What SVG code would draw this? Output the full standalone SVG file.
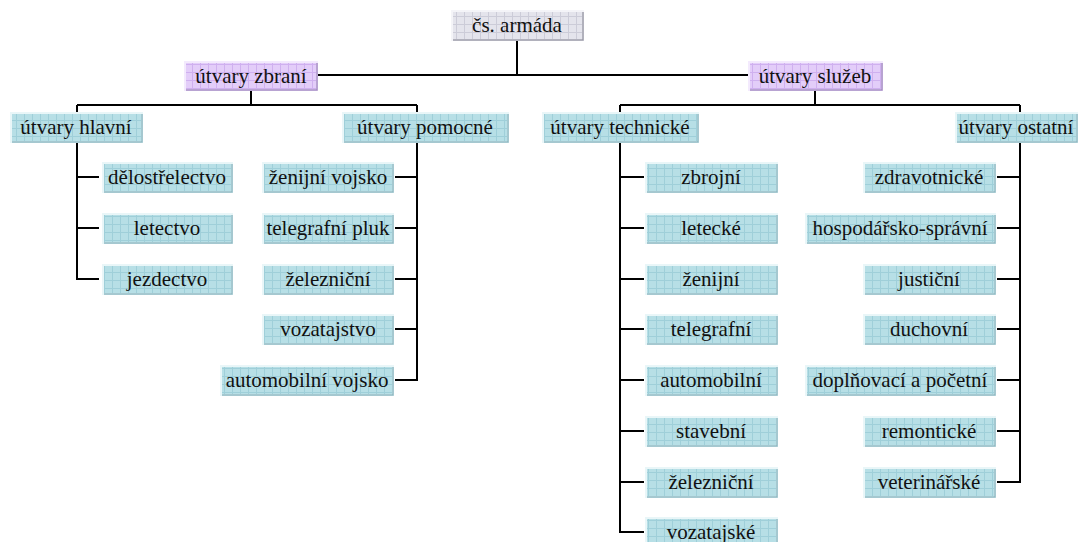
<svg xmlns="http://www.w3.org/2000/svg" width="1081" height="542" viewBox="0 0 1081 542" font-family="'Liberation Serif', 'DejaVu Serif', serif">
<defs>
<pattern id="gb" width="8" height="8" patternUnits="userSpaceOnUse">
<rect width="8" height="8" fill="#b7dfe6"/>
<path d="M0,0.5 H8 M0.5,0 V8" stroke="#9fcfd9" stroke-width="1"/>
</pattern>
<pattern id="gp" width="8" height="8" patternUnits="userSpaceOnUse">
<rect width="8" height="8" fill="#e3cdf9"/>
<path d="M0,0.5 H8 M0.5,0 V8" stroke="#cfb0ef" stroke-width="1"/>
</pattern>
<pattern id="gg" width="8" height="8" patternUnits="userSpaceOnUse">
<rect width="8" height="8" fill="#e4e4ec"/>
<path d="M0,0.5 H8 M0.5,0 V8" stroke="#ccccd8" stroke-width="1"/>
</pattern>
</defs>
<style>
.b rect{fill:url(#gb);stroke:#e9f6f8;stroke-width:2}
.p rect{fill:url(#gp);stroke:#f3eafd;stroke-width:2}
.g rect{fill:url(#gg);stroke:#f4f4f8;stroke-width:2}
.b path.s{stroke:#8fb9c2}
.p path.s{stroke:#a58cc3}
.g path.s{stroke:#9a9aa8}
path.s{fill:none;stroke-width:1.5}
text{font-family:'Liberation Serif','DejaVu Serif',serif;font-size:21px;fill:#111;text-anchor:middle}
#connectors path{fill:none;stroke:#000;stroke-width:2}
</style>
<g id="connectors">
<path d="M517,41 V75 M318,75 H748"/>
<path d="M251,91 V105 M77,105 H417 M77,105 V112 M417,105 V112"/>
<path d="M815,91 V105 M620,105 H1020 M620,105 V112 M1020,105 V112"/>
<path d="M77,142 V279 H99 M77,177 H99 M77,228 H99"/>
<path d="M417,142 V380 H395 M417,177 H395 M417,228 H395 M417,279 H395 M417,329 H395"/>
<path d="M620,142 V532 H644 M620,177 H644 M620,228 H644 M620,279 H644 M620,329 H644 M620,380 H644 M620,431 H644 M620,482 H644"/>
<path d="M1020,142 V482 H997 M1020,177 H997 M1020,228 H997 M1020,279 H997 M1020,329 H997 M1020,380 H997 M1020,431 H997"/>
</g>
<g id="n-root" class="g"><rect x="452" y="11" width="131" height="29"/><path class="s" d="M453,40 H583 V12"/><text x="517" y="32">čs. armáda</text></g>
<g id="n-zbrani" class="p"><rect x="185" y="62" width="132" height="28"/><path class="s" d="M186,90 H317 V63"/><text x="251" y="83">útvary zbraní</text></g>
<g id="n-sluzeb" class="p"><rect x="749" y="62" width="133" height="28"/><path class="s" d="M750,90 H882 V63"/><text x="815" y="83">útvary služeb</text></g>
<g id="n-hlavni" class="b"><rect x="11" y="113" width="131" height="29"/><path class="s" d="M12,142 H142 V114"/><text x="76" y="134">útvary hlavní</text></g>
<g id="n-pomocne" class="b"><rect x="343" y="113" width="165" height="29"/><path class="s" d="M344,142 H508 V114"/><text x="425" y="134">útvary pomocné</text></g>
<g id="n-technicke" class="b"><rect x="543" y="113" width="155" height="29"/><path class="s" d="M544,142 H698 V114"/><text x="620" y="134">útvary technické</text></g>
<g id="n-ostatni" class="b"><rect x="956" y="113" width="121" height="29"/><path class="s" d="M957,142 H1077 V114"/><text x="1016" y="134">útvary ostatní</text></g>
<g id="n-delo" class="b"><rect x="103" y="163" width="129" height="29"/><path class="s" d="M104,192 H232 V164"/><text x="167" y="184">dělostřelectvo</text></g>
<g id="n-letectvo" class="b"><rect x="103" y="214" width="129" height="29"/><path class="s" d="M104,243 H232 V215"/><text x="167" y="235">letectvo</text></g>
<g id="n-jezdectvo" class="b"><rect x="103" y="265" width="129" height="29"/><path class="s" d="M104,294 H232 V266"/><text x="167" y="286">jezdectvo</text></g>
<g id="n-zenvoj" class="b"><rect x="263" y="163" width="130" height="29"/><path class="s" d="M264,192 H393 V164"/><text x="328" y="184">ženijní vojsko</text></g>
<g id="n-telpluk" class="b"><rect x="263" y="214" width="130" height="29"/><path class="s" d="M264,243 H393 V215"/><text x="328" y="235">telegrafní pluk</text></g>
<g id="n-zelez1" class="b"><rect x="263" y="265" width="130" height="29"/><path class="s" d="M264,294 H393 V266"/><text x="328" y="286">železniční</text></g>
<g id="n-vozatajstvo" class="b"><rect x="263" y="315" width="130" height="29"/><path class="s" d="M264,344 H393 V316"/><text x="328" y="336">vozatajstvo</text></g>
<g id="n-autovoj" class="b"><rect x="221" y="366" width="172" height="29"/><path class="s" d="M222,395 H393 V367"/><text x="307" y="387">automobilní vojsko</text></g>
<g id="n-zbrojni" class="b"><rect x="646" y="163" width="131" height="29"/><path class="s" d="M647,192 H777 V164"/><text x="711" y="184">zbrojní</text></g>
<g id="n-letecke" class="b"><rect x="646" y="214" width="131" height="29"/><path class="s" d="M647,243 H777 V215"/><text x="711" y="235">letecké</text></g>
<g id="n-zenijni" class="b"><rect x="646" y="265" width="131" height="29"/><path class="s" d="M647,294 H777 V266"/><text x="711" y="286">ženijní</text></g>
<g id="n-telegrafni" class="b"><rect x="646" y="315" width="131" height="29"/><path class="s" d="M647,344 H777 V316"/><text x="711" y="336">telegrafní</text></g>
<g id="n-automobilni" class="b"><rect x="646" y="366" width="131" height="29"/><path class="s" d="M647,395 H777 V367"/><text x="711" y="387">automobilní</text></g>
<g id="n-stavebni" class="b"><rect x="646" y="417" width="131" height="29"/><path class="s" d="M647,446 H777 V418"/><text x="711" y="438">stavební</text></g>
<g id="n-zelez2" class="b"><rect x="646" y="468" width="131" height="29"/><path class="s" d="M647,497 H777 V469"/><text x="711" y="489">železniční</text></g>
<g id="n-vozatajske" class="b"><rect x="646" y="518" width="131" height="29"/><path class="s" d="M647,547 H777 V519"/><text x="711" y="539">vozatajské</text></g>
<g id="n-zdrav" class="b"><rect x="864" y="163" width="131" height="29"/><path class="s" d="M865,192 H995 V164"/><text x="929" y="184">zdravotnické</text></g>
<g id="n-hosp" class="b"><rect x="806" y="214" width="189" height="29"/><path class="s" d="M807,243 H995 V215"/><text x="900" y="235">hospodářsko-správní</text></g>
<g id="n-justicni" class="b"><rect x="864" y="265" width="131" height="29"/><path class="s" d="M865,294 H995 V266"/><text x="929" y="286">justiční</text></g>
<g id="n-duchovni" class="b"><rect x="864" y="315" width="131" height="29"/><path class="s" d="M865,344 H995 V316"/><text x="929" y="336">duchovní</text></g>
<g id="n-dopln" class="b"><rect x="806" y="366" width="189" height="29"/><path class="s" d="M807,395 H995 V367"/><text x="900" y="387">doplňovací a početní</text></g>
<g id="n-remont" class="b"><rect x="864" y="417" width="131" height="29"/><path class="s" d="M865,446 H995 V418"/><text x="929" y="438">remontické</text></g>
<g id="n-veter" class="b"><rect x="864" y="468" width="131" height="29"/><path class="s" d="M865,497 H995 V469"/><text x="929" y="489">veterinářské</text></g>
</svg>
